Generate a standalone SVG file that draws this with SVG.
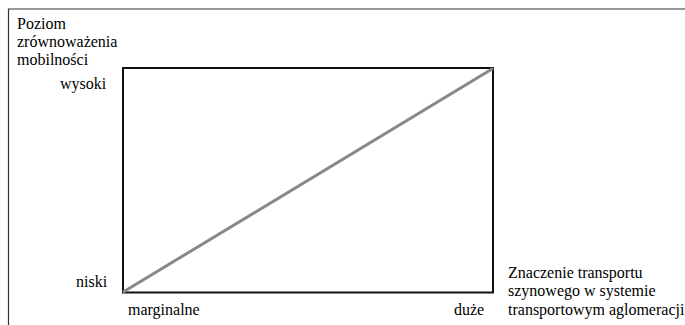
<svg xmlns="http://www.w3.org/2000/svg" width="685" height="325" viewBox="0 0 685 325">
<style>
  text { font-family: "Liberation Serif", Tinos, "DejaVu Serif", "Noto Serif", serif; font-size: 16px; fill: #000; }
  .frame { fill: none; stroke: #333; stroke-width: 1.2; }
  .box { fill: none; stroke: #111; stroke-width: 2; }
  .diag { stroke: #888; stroke-width: 3; stroke-linecap: round; }
</style>
<rect width="685" height="325" fill="#fff"/>
<path class="frame" d="M8.5,325 V9 H685"/>
<g id="axis-y-label">
  <text x="17" y="29" font-family="Liberation Serif, serif">Poziom</text>
  <text x="17" y="47" font-family="Liberation Serif, serif">zrównoważenia</text>
  <text x="17" y="65" font-family="Liberation Serif, serif">mobilności</text>
</g>
<g id="label-wysoki"><text x="60" y="89" font-family="Liberation Serif, serif">wysoki</text></g>
<g id="label-niski"><text x="76" y="287" font-family="Liberation Serif, serif">niski</text></g>
<g id="label-marginalne"><text x="128" y="315" font-family="Liberation Serif, serif">marginalne</text></g>
<g id="label-duze"><text x="454" y="315" font-family="Liberation Serif, serif">duże</text></g>
<g id="axis-x-label">
  <text x="508" y="278" font-family="Liberation Serif, serif">Znaczenie transportu</text>
  <text x="508" y="296" font-family="Liberation Serif, serif">szynowego w systemie</text>
  <text x="508" y="315" font-family="Liberation Serif, serif">transportowym aglomeracji</text>
</g>
<g id="chart-box"><rect class="box" x="123" y="68" width="370" height="224.5"/></g>
<g id="connectors">
  <line class="diag" x1="124" y1="291.5" x2="492" y2="69"/>
</g>
</svg>
